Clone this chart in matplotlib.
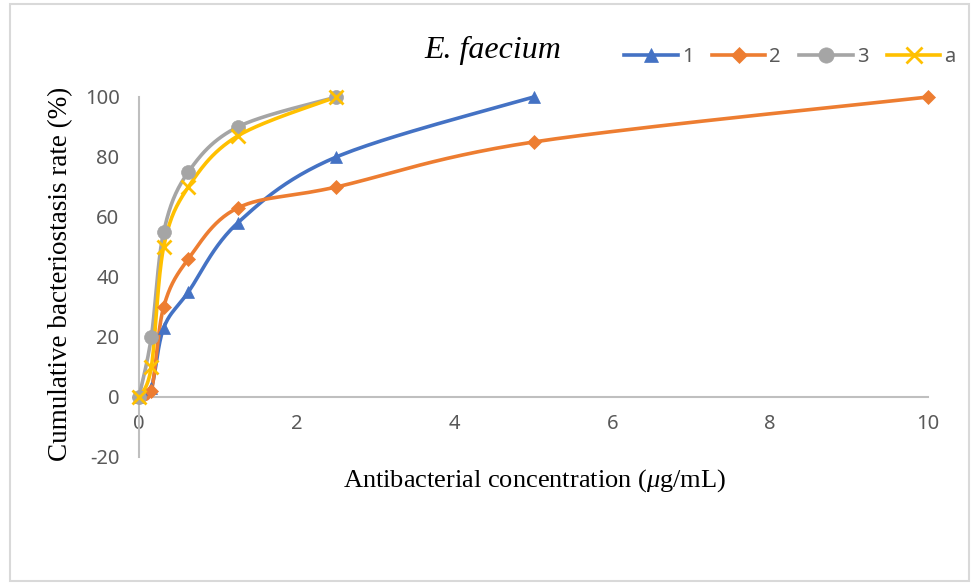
import numpy as np
import matplotlib
matplotlib.use("Agg")
import matplotlib.pyplot as plt
from matplotlib.patches import Rectangle
from matplotlib.lines import Line2D

plt.rcParams["mathtext.fontset"] = "custom"
plt.rcParams["mathtext.rm"] = "Liberation Serif"
plt.rcParams["mathtext.it"] = "Liberation Serif:italic"

# Two-fold dilution series of antibacterial concentration (ug/mL)
conc = [0, 0.156, 0.3125, 0.625, 1.25, 2.5, 5, 10]

series_names = ["1", "2", "3", "a"]
rate_1 = [0, 3, 23, 35, 58, 80, 100]
rate_2 = [0, 2, 30, 46, 63, 70, 85, 100]
rate_3 = [0, 20, 55, 75, 90, 100]
rate_a = [0, 10, 50, 70, 87, 100]

x_ticks = [0, 2, 4, 6, 8, 10]
y_ticks = [-20, 0, 20, 40, 60, 80, 100]

colors = ["#4472C4", "#ED7D31", "#A5A5A5", "#FFC000"]
markers = ["^", "D", "o", "x"]
msizes = [9, 7, 10, 10]


def smooth(xs, ys, n=30):
    """Catmull-Rom style smoothed path through the points."""
    px = np.asarray(xs, float)
    py = np.asarray(ys, float)
    out_x, out_y = [px[0]], [py[0]]
    m = len(px)
    for i in range(m - 1):
        p0 = (px[max(i - 1, 0)], py[max(i - 1, 0)])
        p1 = (px[i], py[i])
        p2 = (px[i + 1], py[i + 1])
        p3 = (px[min(i + 2, m - 1)], py[min(i + 2, m - 1)])
        c1 = (p1[0] + (p2[0] - p0[0]) / 6, p1[1] + (p2[1] - p0[1]) / 6)
        c2 = (p2[0] - (p3[0] - p1[0]) / 6, p2[1] - (p3[1] - p1[1]) / 6)
        t = np.linspace(0, 1, n)[1:]
        bx = (1 - t) ** 3 * p1[0] + 3 * (1 - t) ** 2 * t * c1[0] + 3 * (1 - t) * t ** 2 * c2[0] + t ** 3 * p2[0]
        by = (1 - t) ** 3 * p1[1] + 3 * (1 - t) ** 2 * t * c1[1] + 3 * (1 - t) * t ** 2 * c2[1] + t ** 3 * p2[1]
        out_x.extend(bx)
        out_y.extend(by)
    return np.array(out_x), np.array(out_y)


W, H = 974, 585
fig = plt.figure(figsize=(W / 100, H / 100), dpi=100)
fig.patches.append(Rectangle((10 / W, 4 / H), 959 / W, 577 / H, transform=fig.transFigure,
                             fill=False, edgecolor="#d9d9d9", linewidth=1.5))

ax = fig.add_axes([139 / W, (H - 457) / H, (928 - 139) / W, (457 - 97) / H])
ax.set_xlim(0, 10)
ax.set_ylim(-20, 100)

all_rates = [rate_1, rate_2, rate_3, rate_a]
handles = []
for name, ys, c, mk, ms in zip(series_names, all_rates, colors, markers, msizes):
    xs = conc[:len(ys)]
    sx, sy = smooth(xs, ys)
    ax.plot(sx, sy, color=c, lw=2.6, clip_on=False, zorder=3, solid_capstyle="round")
    ax.plot(xs, ys, linestyle="none", marker=mk, color=c, markersize=ms,
            markeredgewidth=2 if mk == "x" else 0.5, clip_on=False, zorder=4)
    handles.append(Line2D([], [], color=c, lw=2.6, marker=mk, markersize=ms + 1,
                          markeredgewidth=2 if mk == "x" else 0.5))

for side in ["top", "right"]:
    ax.spines[side].set_visible(False)
ax.spines["bottom"].set_position(("data", 0))
ax.spines["left"].set_position(("data", 0))
for side in ["bottom", "left"]:
    ax.spines[side].set_color("#bfbfbf")
    ax.spines[side].set_linewidth(1.5)

tick_font = {"family": "Noto Sans", "size": 14.5}
ax.set_xticks(x_ticks)
ax.set_yticks(y_ticks)
ax.set_xticklabels([str(v) for v in x_ticks], fontdict=tick_font, color="#595959")
ax.set_yticklabels([str(v) for v in y_ticks], fontdict=tick_font, color="#595959")
ax.tick_params(axis="x", length=0, pad=12)
ax.tick_params(axis="y", length=0, pad=14)

fig.text(535 / W, 1 - 481 / H, "Antibacterial concentration ($\\mu$g/mL)",
         family="Liberation Serif", size=19, ha="center", va="center")
fig.text(61 / W, 1 - 274 / H, "Cumulative bacteriostasis rate (%)",
         family="Liberation Serif", size=19.5, ha="center", va="center", rotation=90)
fig.text(493 / W, 1 - 50 / H, "E. faecium", family="Liberation Serif", style="italic",
         size=23, ha="center", va="center")

leg = fig.legend(handles, series_names, loc="center", bbox_to_anchor=(790 / W, 1 - 57 / H),
                 ncol=4, frameon=False, handlelength=2.65, handletextpad=0.2, columnspacing=0.92,
                 prop={"family": "Noto Sans", "size": 14.5})
for t in leg.get_texts():
    t.set_color("#595959")

fig.savefig("out.png", dpi=100)
